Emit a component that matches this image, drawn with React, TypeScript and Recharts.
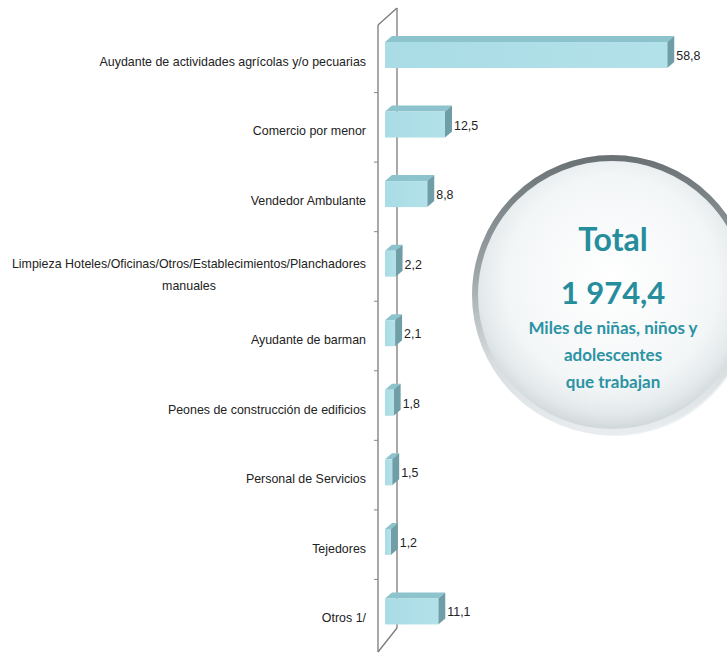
import React from "react";
import { BarChart, Bar, XAxis, YAxis } from "recharts";

const categories = [
  "Auydante de actividades agrícolas y/o pecuarias",
  "Comercio por menor",
  "Vendedor Ambulante",
  "Limpieza Hoteles/Oficinas/Otros/Establecimientos/Planchadores\nmanuales",
  "Ayudante de barman",
  "Peones de construcción de edificios",
  "Personal de Servicios",
  "Tejedores",
  "Otros 1/",
];
const values = [58.8, 12.5, 8.8, 2.2, 2.1, 1.8, 1.5, 1.2, 11.1];

const totalTitle = "Total";
const totalValue = "1 974,4";
const totalLines = ["Miles de niñas, niños y", "adolescentes", "que trabajan"];

const data = categories.map((name, i) => ({ name, value: values[i] }));

const W = 727;
const H = 653;
const M = { top: 26, right: 54, bottom: 1, left: 0 };
const YW = 385;
const LABEL_FONT = "'Liberation Sans', Arial, sans-serif";
const FS = 13.5;
const SX = 0.92;
const D = 7; // depth x
const DY = 6; // depth y
const SHIFT = 6;

const fmt = (v: number) => v.toFixed(1).replace(".", ",");

const NarrowText = ({ x, y, anchor, children }: any) => (
  <g transform={`translate(${x},${y}) scale(${SX},1)`}>
    <text x={0} y={0} textAnchor={anchor} fontFamily={LABEL_FONT} fontSize={FS} fill="#222">
      {children}
    </text>
  </g>
);

const BarShape = (props: any) => {
  const { x, y: y0, width, height } = props;
  const y = y0 - SHIFT;
  if (width <= 0) return null;
  return (
    <g>
      <polygon
        points={`${x},${y} ${x + D},${y - DY} ${x + width + D},${y - DY} ${x + width},${y}`}
        fill="#8cc3cc"
      />
      <polygon
        points={`${x + width},${y} ${x + width + D},${y - DY} ${x + width + D},${y + height - DY} ${x + width},${y + height}`}
        fill="#6f9ea6"
      />
      <rect x={x} y={y} width={width} height={height} fill="url(#frontGrad)" />
    </g>
  );
};

const ValueLabel = (props: any) => {
  const { x, y, width, height, value } = props;
  return (
    <NarrowText x={x + width + D + 2} y={y - SHIFT + height / 2 + 5} anchor="start">
      {fmt(value)}
    </NarrowText>
  );
};

const CatTick = (props: any) => {
  const { y, payload } = props;
  const lines = String(payload.value).split("\n");
  if (lines.length === 1) {
    return (
      <NarrowText x={366} y={y + 5} anchor="end">
        {lines[0]}
      </NarrowText>
    );
  }
  return (
    <g>
      <NarrowText x={366} y={y - 1} anchor="end">
        {lines[0]}
      </NarrowText>
      <NarrowText x={189} y={y + 21} anchor="middle">
        {lines[1]}
      </NarrowText>
    </g>
  );
};

const Wall = () => {
  const band = (H - M.top - M.bottom) / categories.length;
  const fx = YW - 7;
  const bx = YW + 12;
  const ticks = [];
  for (let i = 1; i < categories.length; i++) {
    const ty = M.top + i * band - 3;
    ticks.push(<line key={i} x1={fx - 4} x2={fx} y1={ty} y2={ty} stroke="#888" strokeWidth={1} />);
  }
  return (
    <svg width={W} height={H} style={{ position: "absolute", left: 0, top: 0 }}>
      <line x1={fx} y1={25} x2={fx} y2={652} stroke="#7a7a7a" strokeWidth={1.3} />
      <line x1={bx} y1={8} x2={bx} y2={628} stroke="#7a7a7a" strokeWidth={1.3} />
      <line x1={fx} y1={25} x2={bx} y2={8} stroke="#7a7a7a" strokeWidth={1.3} />
      <line x1={bx} y1={628} x2={fx} y2={652} stroke="#7a7a7a" strokeWidth={1.3} />
      {ticks}
    </svg>
  );
};

const TotalBubble = () => {
  const cx = 612;
  const cy = 295;
  const r = 137;
  const teal = "#268d9d";
  const font = "Lato, 'Open Sans', sans-serif";
  return (
    <svg width={W} height={H} style={{ position: "absolute", left: 0, top: 0, pointerEvents: "none" }}>
      <defs>
        <radialGradient id="bubbleFill" cx="50%" cy="45%" r="55%">
          <stop offset="0%" stopColor="#ffffff" />
          <stop offset="70%" stopColor="#f3f6f7" />
          <stop offset="88%" stopColor="#e3e9eb" />
          <stop offset="100%" stopColor="#cdd4d7" />
        </radialGradient>
        <linearGradient id="rimGrad" x1="0" y1="0" x2="0" y2="1">
          <stop offset="0%" stopColor="#6a7275" />
          <stop offset="40%" stopColor="#9aa2a5" />
          <stop offset="75%" stopColor="#d8dee0" />
          <stop offset="100%" stopColor="#e8ecee" />
        </linearGradient>
      </defs>
      <circle cx={cx + 3} cy={cy + 4} r={r} fill="#eef1f2" />
      <circle cx={cx} cy={cy} r={r} fill="url(#bubbleFill)" stroke="url(#rimGrad)" strokeWidth={6} />
      <text x={cx + 1} y={251} textAnchor="middle" fontFamily={font} fontWeight={700} fontSize={32} fill={teal}>
        {totalTitle}
      </text>
      <text x={cx + 1} y={304} textAnchor="middle" fontFamily={font} fontWeight={700} fontSize={31} fill={teal}>
        {totalValue}
      </text>
      {totalLines.map((t, i) => (
        <text
          key={i}
          x={cx + 1}
          y={334 + i * 27}
          textAnchor="middle"
          fontFamily={font}
          fontWeight={700}
          fontSize={17}
          fill="#2b93a3"
        >
          {t}
        </text>
      ))}
    </svg>
  );
};

export default function App() {
  return (
    <div style={{ position: "absolute", left: 0, top: 0, width: W, height: H, background: "#fff", overflow: "hidden" }}>
      <Wall />
      <div style={{ position: "absolute", left: 0, top: 0 }}>
        <BarChart width={W} height={H} data={data} layout="vertical" margin={M} barCategoryGap={0}>
          <defs>
            <linearGradient id="frontGrad" x1="0" y1="0" x2="1" y2="0">
              <stop offset="0%" stopColor="#a9dce5" />
              <stop offset="100%" stopColor="#b3e1e9" />
            </linearGradient>
          </defs>
          <XAxis type="number" domain={[0, 60]} hide />
          <YAxis
            type="category"
            dataKey="name"
            width={YW}
            axisLine={false}
            tickLine={false}
            tick={<CatTick />}
            interval={0}
          />
          <Bar
            dataKey="value"
            barSize={26}
            shape={<BarShape />}
            label={<ValueLabel />}
            isAnimationActive={false}
          />
        </BarChart>
      </div>
      <TotalBubble />
    </div>
  );
}
